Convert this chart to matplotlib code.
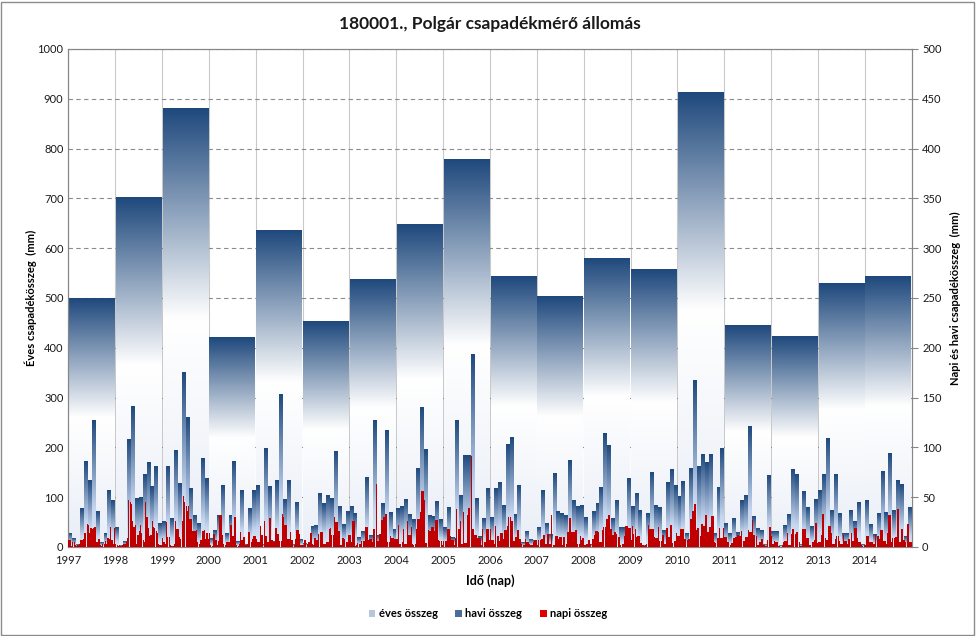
import numpy as np
import matplotlib.pyplot as plt
from matplotlib.colors import LinearSegmentedColormap
from matplotlib.patches import Patch, Rectangle

plt.rcParams['font.family'] = ['Lato', 'DejaVu Sans']

# evek es eves osszegek (bal tengely, mm)
evek = list(range(1997, 2015))
eves = [500, 702, 880, 420, 636, 453, 537, 648, 778, 543, 503, 580, 558, 912, 445, 422, 530, 543]

# havi osszegek (jobb tengely, mm), evenkent 12 honap
havi = [
    [14, 9, 3, 39, 86, 67, 127, 36, 5, 14, 57, 47],       # 1997
    [20, 2, 6, 108, 141, 49, 50, 73, 85, 61, 81, 24],     # 1998
    [26, 81, 29, 97, 64, 175, 130, 59, 32, 24, 89, 69],   # 1999
    [9, 17, 32, 62, 14, 32, 86, 6, 57, 3, 39, 57],        # 2000
    [62, 3, 99, 61, 6, 67, 153, 48, 67, 3, 45, 8],        # 2001
    [4, 2, 21, 22, 54, 44, 52, 49, 96, 41, 23, 36],       # 2002
    [41, 34, 10, 16, 70, 12, 127, 12, 44, 117, 35, 18],   # 2003
    [39, 41, 48, 33, 28, 79, 140, 98, 32, 31, 46, 28],    # 2004
    [20, 40, 10, 127, 52, 92, 92, 193, 49, 11, 29, 59],   # 2005
    [30, 59, 65, 42, 103, 110, 33, 62, 5, 16, 8, 7],      # 2006
    [20, 57, 24, 13, 74, 36, 34, 32, 87, 47, 41, 42],     # 2007
    [30, 3, 36, 44, 60, 114, 102, 29, 47, 20, 20, 69],    # 2008
    [41, 54, 37, 2, 34, 75, 42, 40, 17, 65, 78, 62],      # 2009
    [51, 66, 14, 79, 167, 81, 93, 85, 93, 14, 60, 99],    # 2010
    [24, 14, 29, 15, 47, 52, 121, 31, 19, 17, 3, 72],     # 2011
    [16, 16, 2, 22, 33, 78, 73, 3, 56, 40, 21, 48],       # 2012
    [57, 73, 109, 37, 73, 34, 14, 14, 37, 26, 45, 3],     # 2013
    [47, 23, 13, 34, 76, 35, 94, 37, 67, 63, 11, 40],     # 2014
]

# napi osszegek (jobb tengely, mm), dekadonkenti csucsok a kepbol leolvasva
napi = [
    [7,7,1,5,5,2,1,2,3,7,7,8,14,14,23,22,14,19,18,19,20,5,5,8,2,1,3,3,6,3,9,8,20,7,3,19],
    [3,2,1,2,1,2,3,3,5,9,47,45,43,26,20,22,3,12,16,22,14,7,5,45,30,19,11,12,26,20,19,16,14,3,2,2],
    [9,5,3,25,10,10,2,1,1,3,26,18,18,10,8,26,51,45,41,36,41,28,28,16,16,16,17,5,3,7,7,16,17,8,14,8],
    [14,2,1,13,13,7,2,6,32,32,12,3,2,5,5,5,22,22,11,30,30,2,1,3,15,7,10,10,2,3,15,15,5,8,11,11],
    [8,5,5,21,12,12,26,11,11,5,29,29,7,5,5,19,13,13,6,6,33,30,22,22,8,8,15,7,7,2,8,17,17,13,2,2],
    [2,7,7,3,5,5,14,3,2,9,7,7,13,15,15,15,3,3,5,5,18,19,12,12,30,25,25,16,16,2,9,9,8,5,5,12],
    [12,5,26,26,1,2,4,3,3,6,6,6,20,20,7,8,8,5,18,18,63,6,6,13,27,27,30,33,33,5,5,11,9,9,8,8],
    [8,22,3,3,5,18,3,3,26,12,12,20,3,2,3,18,28,28,35,56,56,47,4,4,17,16,16,20,20,16,27,27,7,6,6,2],
    [6,6,6,18,18,11,7,7,2,9,38,18,18,26,3,35,4,4,32,39,39,91,18,18,12,12,9,9,9,2,18,5,5,18,18,7],
    [18,7,7,3,21,11,11,6,14,14,8,17,17,21,30,30,26,26,6,10,10,17,8,8,3,2,2,8,5,5,3,2,2,5,7,7],
    [2,7,7,8,8,12,3,3,13,3,3,32,2,2,11,11,8,10,10,2,10,10,3,15,15,29,15,15,15,17,17,3,3,11,7,9],
    [2,2,3,7,7,3,8,8,12,16,16,15,5,5,17,20,20,28,28,32,18,18,12,15,15,13,10,10,2,3,3,11,21,21,19,19],
    [7,21,13,18,10,11,11,4,4,2,1,2,3,22,18,18,18,18,10,9,9,20,6,6,12,12,3,19,19,10,22,22,4,6,6,14],
    [11,11,18,18,18,8,8,7,8,8,28,36,36,43,17,19,19,11,23,23,21,32,32,15,20,20,31,31,5,4,9,9,19,9,9,19],
    [10,10,5,5,2,4,4,9,10,10,12,11,11,16,6,6,10,10,17,15,15,27,12,12,11,2,2,5,8,8,2,1,1,7,20,20],
    [11,3,6,5,5,1,1,0,2,5,6,6,14,2,2,13,18,18,13,15,15,5,1,1,18,18,18,9,9,2,2,5,5,7,24,4],
    [5,5,12,33,33,9,7,7,21,21,14,3,3,8,11,11,6,3,3,12,6,6,3,8,8,14,6,6,19,19,9,5,5,2,1,2],
    [2,11,11,5,5,5,3,3,12,11,11,8,17,17,6,6,3,14,32,32,5,9,9,10,10,38,5,5,18,7,7,5,23,23,5,5],
]

sotetkek = '#1f497d'
piros = '#c00000'
szurke = '#868686'

cm_eves = LinearSegmentedColormap.from_list('eves', [(0, '#e8edf6'), (0.52, '#ffffff'), (1, sotetkek)])
cm_havi = LinearSegmentedColormap.from_list('havi', [(0, '#e2e9f6'), (0.3, '#c6d6ef'), (1, sotetkek)])
grad = np.linspace(0, 1, 256).reshape(-1, 1)

fig = plt.figure(figsize=(9.76, 6.36), dpi=100)
ax = fig.add_axes([0.07, 0.14, 0.8641, 0.783])
ax2 = ax.twinx()

# eves oszlopok szinatmenettel
for ev, h in zip(evek, eves):
    ax.imshow(grad, cmap=cm_eves, extent=(ev + 0.012, ev + 0.988, 0, h),
              origin='lower', aspect='auto', zorder=2, interpolation='bilinear')

# havi oszlopok
for ev, sor in zip(evek, havi):
    for m, v in enumerate(sor):
        x0 = ev + (m + 0.03) / 12
        x1 = ev + (m + 0.97) / 12
        ax2.imshow(grad, cmap=cm_havi, extent=(x0, x1, 0, v),
                   origin='lower', aspect='auto', zorder=2, interpolation='bilinear')

# napi oszlopok
for ev, sor in zip(evek, napi):
    n = len(sor)
    x = [ev + (i + 0.5) / n for i in range(n)]
    ax2.bar(x, sor, width=0.92 / n, color=piros, linewidth=0, zorder=3)

ax.set_xlim(1997, 2015)
ax.set_ylim(0, 1000)
ax2.set_ylim(0, 500)
ax.set_xticks(evek)
ax.set_xticklabels([str(e) for e in evek])
ax.set_yticks(range(0, 1001, 100))
ax2.set_yticks(range(0, 501, 50))

ax.set_axisbelow(True)
ax.yaxis.grid(True, linestyle=(0, (4, 3)), color='#8c8c8c', linewidth=0.8)
ax.xaxis.grid(True, linestyle='-', color='#c9c9c9', linewidth=0.8)

for a in (ax, ax2):
    for s in a.spines.values():
        s.set_color(szurke)
    a.tick_params(labelsize=8, colors='#1a1a1a', length=4)
    a.tick_params(axis='both', color=szurke)
ax.tick_params(axis='x', length=0, pad=6)
ax.tick_params(axis='y', length=0)

ax.set_ylabel('Éves csapadékösszeg  (mm)', fontsize=8, fontweight='bold', labelpad=0)
ax2.set_ylabel('Napi és havi csapadékösszeg  (mm)', fontsize=8, fontweight='bold', labelpad=6)
ax.set_xlabel('Idő (nap)', fontsize=9, fontweight='bold', labelpad=6)

fig.text(0.502, 0.962, '180001., Polgár csapadékmérő állomás', ha='center', va='center',
         fontsize=12.5, fontweight='bold', color='#1a1a1a')

kezelok = [Patch(facecolor='#b9c6da', edgecolor='none'),
           Patch(facecolor='#4a6d9c', edgecolor='none'),
           Patch(facecolor='#e00000', edgecolor='none')]
fig.legend(kezelok, ['éves összeg', 'havi összeg', 'napi összeg'], loc='center',
           bbox_to_anchor=(0.5, 0.035), ncol=3, frameon=False,
           handlelength=0.6, handleheight=0.6, handletextpad=0.3, columnspacing=1.6,
           prop={'weight': 'bold', 'size': 8})

fig.patches.append(Rectangle((0.001, 0.0015), 0.997, 0.996, transform=fig.transFigure,
                             fill=False, edgecolor='#8c8c8c', linewidth=1))

fig.savefig('out.png', dpi=100)
